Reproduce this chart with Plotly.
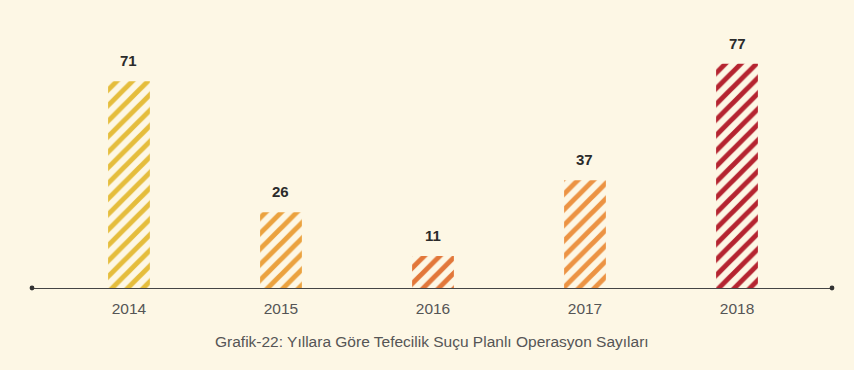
import plotly.graph_objects as go

years = ["2014", "2015", "2016", "2017", "2018"]
values = [71, 26, 11, 37, 77]
colors = ["#e5bd3c", "#eba23f", "#e2773a", "#ec9343", "#b52430"]
title_text = "Grafik-22: Yıllara Göre Tefecilik Suçu Planlı Operasyon Sayıları"

BG = "#fdf7e5"
FONT = "Liberation Sans, Arial, sans-serif"

fig = go.Figure()
fig.add_trace(go.Bar(
    x=years,
    y=values,
    width=0.275,
    marker=dict(
        color=colors,
        line=dict(width=0),
        pattern=dict(shape="/", bgcolor=colors, fgcolor="#fffaf0",
                     size=11, solidity=0.45, fillmode="replace"),
    ),
    hoverinfo="skip",
))

for i, v in enumerate(values):
    fig.add_annotation(x=i, y=v, text=f"<b>{v}</b>", showarrow=False,
                       yanchor="bottom", yshift=10,
                       font=dict(family=FONT, size=15, color="#2b2b2b"))

fig.add_annotation(x=0.5, y=-0.205, xref="paper", yref="paper", text=title_text,
                   showarrow=False, yanchor="middle",
                   font=dict(family=FONT, size=15.5, color="#555555"))

# axis end dots
for xp in (0, 1):
    fig.add_shape(type="circle", xref="paper", yref="paper",
                  x0=xp - 0.003, x1=xp + 0.003, y0=-0.0095, y1=0.0095,
                  fillcolor="#333333", line=dict(width=0))

fig.update_layout(
    width=854, height=370,
    margin=dict(l=32, r=22, t=26, b=82),
    paper_bgcolor=BG, plot_bgcolor=BG,
    showlegend=False,
    xaxis=dict(type="category", range=[-0.638, 4.625], showline=True,
               linecolor="#444444", linewidth=1.3, showgrid=False, zeroline=False,
               ticks="", ticklabelstandoff=6, fixedrange=True,
               tickfont=dict(family=FONT, size=15.5, color="#555555")),
    yaxis=dict(range=[0, 90], visible=False, showgrid=False, zeroline=False,
               fixedrange=True),
)

fig.write_html("out.html", config={"displayModeBar": False},
               post_script="document.body.style.margin='0';")
